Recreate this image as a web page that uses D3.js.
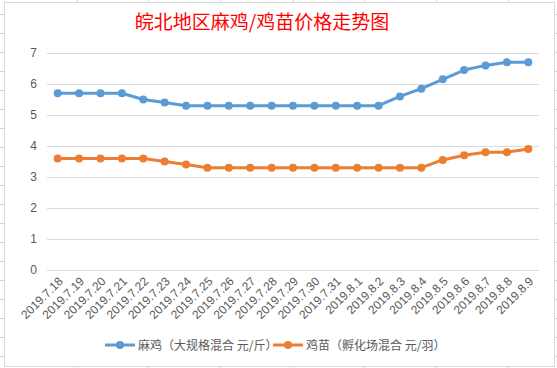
<!DOCTYPE html>
<html><head><meta charset="utf-8">
<script src="https://cdn.jsdelivr.net/npm/d3@7"></script>
<style>
html,body{margin:0;padding:0;background:#fff;}
svg{display:block;}
</style></head>
<body>
<svg id="c" width="557" height="368"></svg>
<script>
const title = "皖北地区麻鸡/鸡苗价格走势图";
const categories = ["2019.7.18","2019.7.19","2019.7.20","2019.7.21","2019.7.22","2019.7.23","2019.7.24","2019.7.25","2019.7.26","2019.7.27","2019.7.28","2019.7.29","2019.7.30","2019.7.31","2019.8.1","2019.8.2","2019.8.3","2019.8.4","2019.8.5","2019.8.6","2019.8.7","2019.8.8","2019.8.9"];
const seriesNames = ["麻鸡（大规格混合 元/斤）","鸡苗（孵化场混合 元/羽）"];
const maji = [5.7,5.7,5.7,5.7,5.5,5.4,5.3,5.3,5.3,5.3,5.3,5.3,5.3,5.3,5.3,5.3,5.6,5.85,6.15,6.45,6.6,6.7,6.7];
const jimiao = [3.6,3.6,3.6,3.6,3.6,3.5,3.4,3.3,3.3,3.3,3.3,3.3,3.3,3.3,3.3,3.3,3.3,3.3,3.55,3.7,3.8,3.8,3.9];
const yTicks = [0,1,2,3,4,5,6,7];
const colors = ["#5B9BD5","#ED7D31"];

const svg = d3.select("#c");
const W = 557, H = 368;

// spreadsheet grid behind chart
const sheetCols = [77,148,220,293,364,436,508];
const grid = svg.append("g");
d3.range(14, H, 19).forEach(y => {
  grid.append("line").attr("x1",0).attr("x2",W).attr("y1",y+0.5).attr("y2",y+0.5).attr("stroke","#d4d4d4");
});
sheetCols.forEach(x => {
  grid.append("line").attr("x1",x+0.5).attr("x2",x+0.5).attr("y1",0).attr("y2",H).attr("stroke","#d4d4d4");
});
// chart frame
svg.append("rect").attr("x",4.5).attr("y",2.5).attr("width",550).attr("height",364)
  .attr("fill","#fff").attr("stroke","#d9d9d9");

// title
svg.append("text").attr("x",262).attr("y",29).attr("text-anchor","middle")
  .attr("font-family","'Noto Sans CJK SC', sans-serif").attr("font-size",19)
  .attr("fill","#FF0000").text(title);

const x = d3.scaleBand().domain(categories).range([47,539]);
const y = d3.scaleLinear().domain([0,7]).range([270,53]);

// gridlines
svg.append("g").selectAll("line").data(yTicks).join("line")
  .attr("x1",47).attr("x2",539)
  .attr("y1",d=>Math.round(y(d))+0.5).attr("y2",d=>Math.round(y(d))+0.5)
  .attr("stroke","#d9d9d9").attr("stroke-width",1);

// y axis labels
const yAxis = d3.axisLeft(y).tickValues(yTicks).tickFormat(d3.format("d")).tickSize(0).tickPadding(0);
const yg = svg.append("g").attr("transform","translate(37,0)").call(yAxis);
yg.select(".domain").remove();
yg.selectAll("text").attr("font-family","'Liberation Sans', Arial, sans-serif")
  .attr("font-size",12).attr("fill","#595959");

// x axis labels
const xAxis = d3.axisBottom(x).tickSize(0).tickPadding(0);
const xg = svg.append("g").attr("transform","translate(0,270)").call(xAxis);
xg.select(".domain").remove();
xg.selectAll("text")
  .attr("font-family","'Liberation Sans', Arial, sans-serif")
  .attr("font-size",12).attr("fill","#595959")
  .attr("text-anchor","end")
  .attr("dy",0)
  .attr("transform","translate(6,12) rotate(-45)");

// lines
const line = d3.line().x((d,i)=>x(categories[i])+x.bandwidth()/2).y(d=>y(d));
[maji, jimiao].forEach((vals, si) => {
  const g = svg.append("g");
  g.append("path").attr("d", line(vals)).attr("fill","none")
    .attr("stroke",colors[si]).attr("stroke-width",3).attr("stroke-linejoin","round");
  g.selectAll("circle").data(vals).join("circle")
    .attr("cx",(d,i)=>x(categories[i])+x.bandwidth()/2).attr("cy",d=>y(d))
    .attr("r",4).attr("fill",colors[si]);
});

// legend
const legendItems = [{x:105, name:seriesNames[0], c:colors[0]},{x:273, name:seriesNames[1], c:colors[1]}];
legendItems.forEach(it => {
  const g = svg.append("g").attr("transform",`translate(${it.x},345)`);
  g.append("line").attr("x1",0).attr("x2",30).attr("y1",0).attr("y2",0).attr("stroke",it.c).attr("stroke-width",3);
  g.append("circle").attr("cx",15).attr("cy",0).attr("r",4).attr("fill",it.c);
  g.append("text").attr("x",33).attr("y",4.5).attr("font-family","'Noto Sans CJK SC', sans-serif")
    .attr("font-size",12).attr("fill","#595959").text(it.name);
});
</script>
</body></html>
